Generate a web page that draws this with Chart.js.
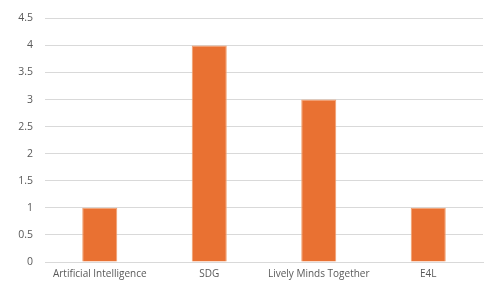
<!DOCTYPE html>
<html>
<head>
<meta charset="utf-8">
<script src="https://cdn.jsdelivr.net/npm/chart.js@4.4.1/dist/chart.umd.min.js"></script>
<style>
  html, body { margin: 0; padding: 0; background: #fff; }
  #wrap { width: 489px; height: 288px; }
</style>
</head>
<body>
<div id="wrap"><canvas id="myChart" width="489" height="288"></canvas></div>
<script>
var categories = ['Artificial Intelligence', 'SDG', 'Lively Minds Together', 'E4L'];
var counts = [1, 4, 3, 1];
var yTicks = [0, 0.5, 1, 1.5, 2, 2.5, 3, 3.5, 4, 4.5];

var ctx = document.getElementById('myChart').getContext('2d');

new Chart(ctx, {
  type: 'bar',
  data: {
    labels: categories,
    datasets: [{
      label: 'Count',
      backgroundColor: '#E97132',
      borderColor: '#F0A070',
      borderWidth: 1,
      data: counts,
      barPercentage: 0.32,
      categoryPercentage: 1
    }]
  },
  options: {
    responsive: false,
    animation: false,
    layout: { padding: { left: 0, right: 6, top: 15, bottom: 0 } },
    plugins: { legend: { display: false }, tooltip: { enabled: false } },
    scales: {
      x: {
        grid: { display: false, drawTicks: false },
        border: { color: '#d9d9d9', width: 1 },
        ticks: {
          color: '#595959',
          font: { family: 'Open Sans', size: 10 },
          padding: 6,
          maxRotation: 0
        },
        afterFit: function (s) { s.height = 26; }
      },
      y: {
        min: 0,
        max: 4.5,
        afterBuildTicks: function (s) {
          s.ticks = yTicks.map(function (v) { return { value: v }; });
        },
        grid: { color: '#d9d9d9', drawTicks: false },
        border: { display: false },
        ticks: {
          color: '#595959',
          font: { family: 'Open Sans', size: 10.5 },
          padding: 12,
          callback: function (v) { return String(v); }
        },
        afterFit: function (s) { s.width = 45; }
      }
    }
  }
});
</script>
</body>
</html>
